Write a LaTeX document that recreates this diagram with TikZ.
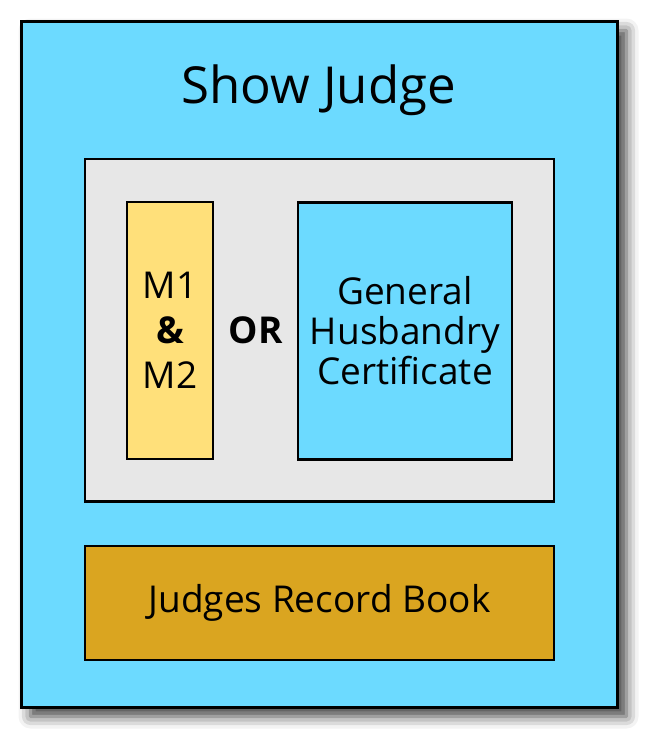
\documentclass[tikz,border=0pt]{standalone}
\usepackage{fontspec}
\setmainfont{Open Sans}
\usetikzlibrary{shadows.blur}
\usetikzlibrary{positioning}

\definecolor{skyfill}{HTML}{6CDAFF}
\definecolor{panelgray}{HTML}{E7E7E7}
\definecolor{modulefill}{HTML}{FFE07A}
\definecolor{bookfill}{HTML}{DAA520}

\begin{document}
\begin{tikzpicture}
			[
				x = 1pt, y = -1pt,
				judge/.style = {rectangle, draw = black, line width = 3pt, fill = skyfill, minimum width = 596pt, minimum height = 686pt, inner sep = 0pt,
					blur shadow = {shadow xshift = 9pt, shadow yshift = -9pt, shadow blur radius = 12pt, shadow opacity = 75}},
				panel/.style = {rectangle, draw = black, line width = 2.5pt, inner sep = 0pt, align = center, font = \fontsize{37}{40}\selectfont},
			]
			\useasboundingbox (0,0) rectangle (656,746);
			\node (judge) [judge] at (319.5,364.5) {};
			\node (title) [anchor = base, font = \fontsize{51}{60}\selectfont] at (318.5,104) {Show Judge};
			\node (choice) [panel, fill = panelgray, minimum width = 469pt, minimum height = 342.5pt] at (319.5,330.25) {};
			\node (modules) [panel, fill = modulefill, minimum width = 86pt, minimum height = 257pt, font = \fontsize{37}{45}\selectfont] at (170,330.5) {M1\\\textbf{\&}\\M2};
			\node (or) [font = \fontsize{37}{40}\selectfont\bfseries] at (255.5,330.5) {OR};
			\node (certificate) [panel, fill = skyfill, minimum width = 214pt, minimum height = 257pt] at (405,331) {General\\Husbandry\\Certificate};
			\node (recordbook) [panel, fill = bookfill, minimum width = 469pt, minimum height = 114pt, font = \fontsize{37}{40}\selectfont] at (319.5,603) {Judges Record Book};
		\end{tikzpicture}
\end{document}
